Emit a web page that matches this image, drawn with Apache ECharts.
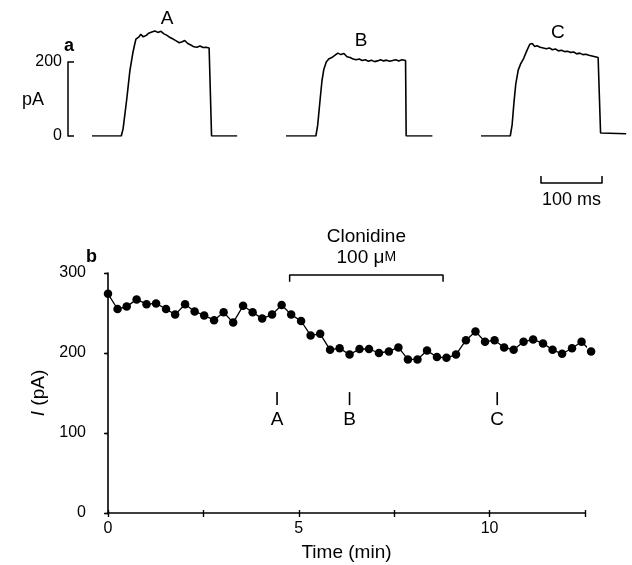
<!DOCTYPE html>
<html>
<head>
<meta charset="utf-8">
<script src="https://cdn.jsdelivr.net/npm/echarts@6/dist/echarts.min.js"></script>
<style>
  html, body { margin: 0; padding: 0; background: #fff; }
  #chart { width: 632px; height: 565px; }
</style>
</head>
<body>
<div id="chart"></div>
<script>
// panel a: current traces (ms after sweep start, pA)
var traceATime = [0, 48, 51, 54, 57, 59, 62, 65, 67, 70, 72, 75, 77, 80, 84, 89, 93, 98, 103, 108, 113, 118, 123, 128, 133, 138, 143, 148, 152, 157, 162, 167, 172, 177, 182, 187, 192, 195, 196, 238];
var traceAValue = [0, 0, 20, 60, 100, 130, 175, 205, 225, 248, 262, 266, 268, 275, 268, 272, 278, 281, 284, 280, 283, 276, 272, 266, 262, 257, 252, 255, 258, 250, 246, 241, 240, 243, 239, 240, 238, 236, 0, 0];
var traceBTime = [0, 49, 52, 56, 59, 62, 66, 70, 75, 80, 85, 90, 95, 100, 105, 110, 115, 120, 125, 130, 135, 140, 145, 150, 155, 160, 165, 170, 175, 180, 185, 190, 196, 197, 240];
var traceBValue = [0, 0, 30, 100, 150, 180, 200, 208, 212, 218, 224, 220, 223, 214, 212, 208, 206, 208, 204, 206, 202, 205, 201, 203, 206, 203, 205, 202, 204, 206, 203, 206, 204, 0, 0];
var traceCTime = [0, 48, 51, 54, 57, 61, 65, 70, 75, 80, 84, 88, 92, 97, 102, 107, 112, 117, 122, 127, 132, 137, 142, 147, 152, 157, 162, 167, 172, 177, 182, 187, 192, 195, 196, 238];
var traceCValue = [0, 0, 30, 90, 140, 178, 195, 210, 230, 248, 250, 242, 244, 240, 238, 236, 238, 233, 235, 230, 232, 228, 229, 226, 227, 222, 224, 220, 221, 218, 216, 214, 212, 210, 8, 6];
var traceNames = ['A', 'B', 'C'];
var traceNameTime = [123, 123, 126];
var traceNameValue = [318, 258, 278];

// panel b: peak current against time
var timeMin = [0.00, 0.25, 0.49, 0.75, 1.01, 1.26, 1.52, 1.76, 2.02, 2.27,
               2.52, 2.78, 3.03, 3.28, 3.54, 3.79, 4.04, 4.30, 4.55, 4.80,
               5.06, 5.31, 5.56, 5.82, 6.07, 6.33, 6.59, 6.84, 7.10, 7.36,
               7.61, 7.86, 8.11, 8.36, 8.62, 8.87, 9.12, 9.38, 9.63, 9.88,
               10.13, 10.38, 10.63, 10.89, 11.14, 11.40, 11.65, 11.90, 12.16, 12.41,
               12.66];
var currentPA = [274, 255, 258, 267, 261, 262, 255, 248, 261, 252,
                 247, 241, 251, 238, 259, 251, 243, 248, 260, 248,
                 240, 222, 224, 204, 206, 198, 205, 205, 200, 202,
                 207, 192, 192, 203, 195, 194, 198, 216, 227, 214,
                 216, 207, 204, 214, 217, 212, 204, 199, 206, 214,
                 202];
var clonidineOn = 4.76;
var clonidineOff = 8.78;
var markerTimes = [4.43, 6.33, 10.2];

var FONT = "'Liberation Sans', Arial, sans-serif";
var INK = '#000';

var myChart = echarts.init(document.getElementById('chart'), null, { renderer: 'canvas' });

function traceGrid(left) {
    return { left: left, top: 6.5, width: 146.4, height: 129.5 };
}
function hiddenX(gi, max) {
    return { gridIndex: gi, type: 'value', min: 0, max: max, show: false };
}
function hiddenY(gi, max) {
    return { gridIndex: gi, type: 'value', min: 0, max: max, show: false };
}
function traceSeries(gi, t, v, idx) {
    return [{
        type: 'line',
        xAxisIndex: gi, yAxisIndex: gi,
        data: t.map(function (x, i) { return [x, v[i]]; }),
        showSymbol: false,
        lineStyle: { color: INK, width: 1.6 },
        silent: true
    }, {
        type: 'scatter',
        xAxisIndex: gi, yAxisIndex: gi,
        data: [[traceNameTime[idx], traceNameValue[idx]]],
        symbolSize: 0,
        clip: false,
        itemStyle: { opacity: 1 },
        label: {
            show: true, position: 'inside', formatter: traceNames[idx],
            color: INK, opacity: 1, fontSize: 19, fontFamily: FONT
        }
    }];
}

var option = {
    backgroundColor: '#fff',
    animation: false,
    grid: [
        traceGrid(92), traceGrid(286), traceGrid(481),
        { left: 68, top: 62, width: 1, height: 74 },        // pA scale bar
        { left: 541, top: 170, width: 61, height: 13 },     // ms scale bar
        { left: 108, top: 273, width: 477, height: 240 }    // panel b
    ],
    xAxis: [
        hiddenX(0, 240), hiddenX(1, 240), hiddenX(2, 240),
        hiddenX(3, 1),
        {
            gridIndex: 4, type: 'value', min: 0, max: 100, interval: 100,
            axisLine: { lineStyle: { color: INK, width: 1.5 } },
            axisTick: { inside: true, length: 7, lineStyle: { color: INK, width: 1.5 } },
            axisLabel: { show: false },
            splitLine: { show: false },
            name: '100 ms', nameLocation: 'middle', nameGap: 8,
            nameTextStyle: { color: INK, fontSize: 18, fontFamily: FONT }
        },
        {
            gridIndex: 5, type: 'value', min: 0, max: 12.5, interval: 2.5,
            axisLine: { lineStyle: { color: INK, width: 1.6 } },
            axisTick: { length: 4, lineStyle: { color: INK, width: 1.4 } },
            axisLabel: {
                color: INK, fontSize: 16, fontFamily: FONT, margin: 8,
                formatter: function (v) { return v % 5 === 0 ? String(v) : ''; }
            },
            splitLine: { show: false },
            name: 'Time (min)', nameLocation: 'middle', nameGap: 30,
            nameTextStyle: { color: INK, fontSize: 19, fontFamily: FONT }
        },
        {
            gridIndex: 5, type: 'value', min: 0, max: 12.5, interval: 2.5, position: 'bottom',
            axisLine: { show: false },
            axisTick: { inside: true, length: 3, lineStyle: { color: INK, width: 1.4 } },
            axisLabel: { show: false },
            splitLine: { show: false }
        }
    ],
    yAxis: [
        hiddenY(0, 350), hiddenY(1, 350), hiddenY(2, 350),
        {
            gridIndex: 3, type: 'value', min: 0, max: 200, interval: 200,
            axisLine: { show: true, lineStyle: { color: INK, width: 1.5 } },
            axisTick: { show: true, inside: true, length: 6, lineStyle: { color: INK, width: 1.5 } },
            axisLabel: { color: INK, fontSize: 16, fontFamily: FONT, margin: 6 },
            splitLine: { show: false }
        },
        hiddenY(4, 1),
        {
            gridIndex: 5, type: 'value', min: 0, max: 300, interval: 100, offset: 15,
            axisLine: { show: true, lineStyle: { color: INK, width: 1.6 } },
            axisTick: { show: true, length: 4, lineStyle: { color: INK, width: 1.4 } },
            axisLabel: { color: INK, fontSize: 16, fontFamily: FONT, margin: 7 },
            splitLine: { show: false },
            name: '{i|I} (pA)', nameLocation: 'middle', nameGap: 41,
            nameTextStyle: {
                color: INK, fontSize: 19, fontFamily: FONT,
                rich: { i: { fontStyle: 'italic', fontSize: 19, fontFamily: FONT, color: INK } }
            }
        },
        {
            gridIndex: 5, type: 'value', min: 0, max: 300, interval: 100, offset: 15,
            axisLine: { show: false },
            axisTick: { show: true, inside: true, length: 3, lineStyle: { color: INK, width: 1.4 } },
            axisLabel: { show: false },
            splitLine: { show: false }
        }
    ],
    graphic: [
        { type: 'text', left: 64, top: 37, style: { text: 'a', fill: INK, fontSize: 18, fontWeight: 'bold', fontFamily: FONT } },
        { type: 'text', left: 86, top: 248, style: { text: 'b', fill: INK, fontSize: 18, fontWeight: 'bold', fontFamily: FONT } },
        { type: 'text', left: 22, top: 91, style: { text: 'pA', fill: INK, fontSize: 18, fontFamily: FONT } }
    ],
    series: [].concat(
        traceSeries(0, traceATime, traceAValue, 0),
        traceSeries(1, traceBTime, traceBValue, 1),
        traceSeries(2, traceCTime, traceCValue, 2),
        [{
            type: 'line',
            xAxisIndex: 5, yAxisIndex: 5,
            data: timeMin.map(function (t, i) { return [t, currentPA[i]]; }),
            symbol: 'circle', symbolSize: 8.5,
            clip: false,
            itemStyle: { color: INK },
            lineStyle: { color: INK, width: 1.3 }
        }, {
            // clonidine application bracket
            type: 'line',
            xAxisIndex: 5, yAxisIndex: 5,
            data: [[clonidineOn, 289], [clonidineOn, 297.5], [clonidineOff, 297.5], [clonidineOff, 289]],
            showSymbol: false, clip: false,
            lineStyle: { color: INK, width: 1.5 }
        }, {
            type: 'scatter',
            xAxisIndex: 5, yAxisIndex: 5,
            data: [[(clonidineOn + clonidineOff) / 2, 297.5]],
            symbolSize: 0, clip: false,
            itemStyle: { opacity: 1 },
            label: {
                show: true, position: 'top', distance: 7, opacity: 1,
                formatter: '{t|Clonidine}\n{t|100 μ}{s|M}',
                rich: {
                    t: { color: INK, fontSize: 19, fontFamily: FONT, lineHeight: 21 },
                    s: { color: INK, fontSize: 14, fontFamily: FONT, lineHeight: 21 }
                }
            }
        }, {
            // A, B, C sampling markers
            type: 'scatter',
            xAxisIndex: 5, yAxisIndex: 5,
            data: markerTimes.map(function (t, i) { return { value: [t, 143], name: traceNames[i] }; }),
            symbol: 'rect', symbolSize: [1.6, 13],
            itemStyle: { color: INK, opacity: 1 },
            label: {
                show: true, position: 'bottom', distance: 5, opacity: 1,
                formatter: '{b}', color: INK, fontSize: 19, fontFamily: FONT
            }
        }]
    )
};
myChart.setOption(option);
</script>
</body>
</html>
